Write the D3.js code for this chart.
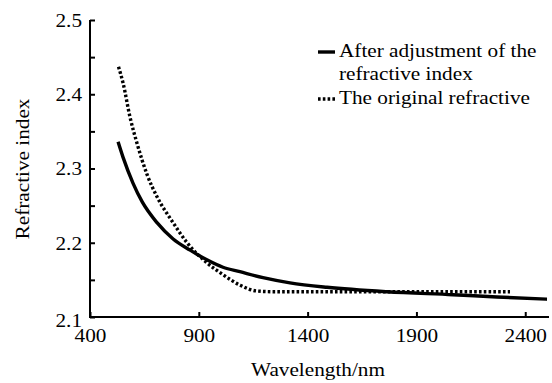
<!DOCTYPE html>
<html><head><meta charset="utf-8">
<script src="https://cdn.jsdelivr.net/npm/d3@7"></script>
<style>body{margin:0;background:#fff}svg{display:block}</style>
</head><body><svg id="c" width="552" height="383"></svg>
<script>
// Data (wavelength nm, refractive index)
const adjustedWl = [529, 552, 598, 640, 708, 782, 860, 937, 1011, 1089, 1195, 1319, 1489, 1765, 2068, 2270, 2500];
const adjustedN  = [2.336, 2.315, 2.280, 2.255, 2.227, 2.205, 2.190, 2.177, 2.167, 2.161, 2.153, 2.146, 2.140, 2.134, 2.130, 2.127, 2.124];
const originalWl = [531, 552, 584, 616, 662, 708, 782, 846, 937, 1011, 1089, 1167, 1250, 1600, 2000, 2330];
const originalN  = [2.437, 2.415, 2.369, 2.334, 2.292, 2.262, 2.227, 2.200, 2.173, 2.157, 2.143, 2.135, 2.134, 2.134, 2.134, 2.134];
const xTicks = [400, 900, 1400, 1900, 2400];
const yTicks = [2.1, 2.2, 2.3, 2.4, 2.5];
const yMinor = [2.15, 2.25, 2.35, 2.45];
const seriesNames = ["After adjustment of the", "refractive index", "The original refractive"];
const xLabel = "Wavelength/nm", yLabel = "Refractive index";

const FONT = "'Liberation Serif', 'Times New Roman', Times, 'DejaVu Serif', serif";
const SX = 1.18, FS = 18;
const svg = d3.select("#c").attr("font-family", FONT);
const x = d3.scaleLinear().domain([400, 2500]).range([90, 547]);
const y = d3.scaleLinear().domain([2.1, 2.5]).range([317, 20]);

// lines
const line = d3.line().x(d => x(d[0])).y(d => y(d[1])).curve(d3.curveMonotoneX);
svg.append("path").datum(adjustedWl.map((w,i)=>[w, adjustedN[i]]))
  .attr("d", line).attr("fill","none").attr("stroke","#000").attr("stroke-width",3.4);
svg.append("path").datum(originalWl.map((w,i)=>[w, originalN[i]]))
  .attr("d", line).attr("fill","none").attr("stroke","#000").attr("stroke-width",3.4)
  .attr("stroke-dasharray","2.6,2.2");

// axes
const xa = svg.append("g").attr("transform","translate(0,317)")
  .call(d3.axisBottom(x).tickValues(xTicks).tickSizeInner(-5).tickSizeOuter(0).tickPadding(14).tickFormat(d3.format("d")));
const ya = svg.append("g").attr("transform","translate(90,0)")
  .call(d3.axisLeft(y).tickValues(yTicks).tickSizeInner(-5).tickSizeOuter(0).tickPadding(7).tickFormat(d3.format(".1f")));
svg.append("g").attr("transform","translate(90,0)")
  .call(d3.axisLeft(y).tickValues(yMinor).tickSizeInner(-5).tickSizeOuter(0).tickFormat(""))
  .call(g=>g.select(".domain").remove());
svg.selectAll("g").attr("font-family", FONT);
svg.selectAll(".domain").attr("stroke","#000").attr("stroke-width",2);
svg.selectAll(".tick line").attr("stroke","#000").attr("stroke-width",2);
svg.selectAll(".tick text").attr("font-size",FS).attr("font-family",FONT).attr("fill","#000");
xa.selectAll(".tick text").attr("dy","0.71em").attr("y",12)
  .attr("transform",`scale(${SX},1)`).attr("x",0);
xa.select(".domain").attr("d","M90,0H549");
ya.selectAll(".tick text").attr("transform",`scale(${SX},1)`).attr("x",-8/SX).attr("dy","0.35em");
ya.selectAll(".tick").filter(d=>d===2.1).select("text").attr("dy","0.55em");
ya.select(".domain").attr("d","M0,20V318");

// axis labels
svg.append("text").attr("transform",`translate(318,376) scale(${SX},1)`).attr("text-anchor","middle")
  .attr("font-size",FS).attr("font-family",FONT).text(xLabel);
svg.append("text").attr("transform",`translate(29,169) rotate(-90) scale(${SX},1)`).attr("text-anchor","middle")
  .attr("font-size",FS).attr("font-family",FONT).text(yLabel);

// legend
const lg = svg.append("g");
lg.append("line").attr("x1",318).attr("x2",335).attr("y1",52).attr("y2",52).attr("stroke","#000").attr("stroke-width",3.4);
lg.append("line").attr("x1",318).attr("x2",335).attr("y1",99).attr("y2",99).attr("stroke","#000").attr("stroke-width",3.4).attr("stroke-dasharray","2.6,2.2");
[[57, seriesNames[0]],[80, seriesNames[1]],[104, seriesNames[2]]].forEach(([yy,t])=>{
  lg.append("text").attr("transform",`translate(339,${yy}) scale(${SX},1)`).attr("font-size",FS).attr("font-family",FONT).text(t);
});
</script></body></html>
